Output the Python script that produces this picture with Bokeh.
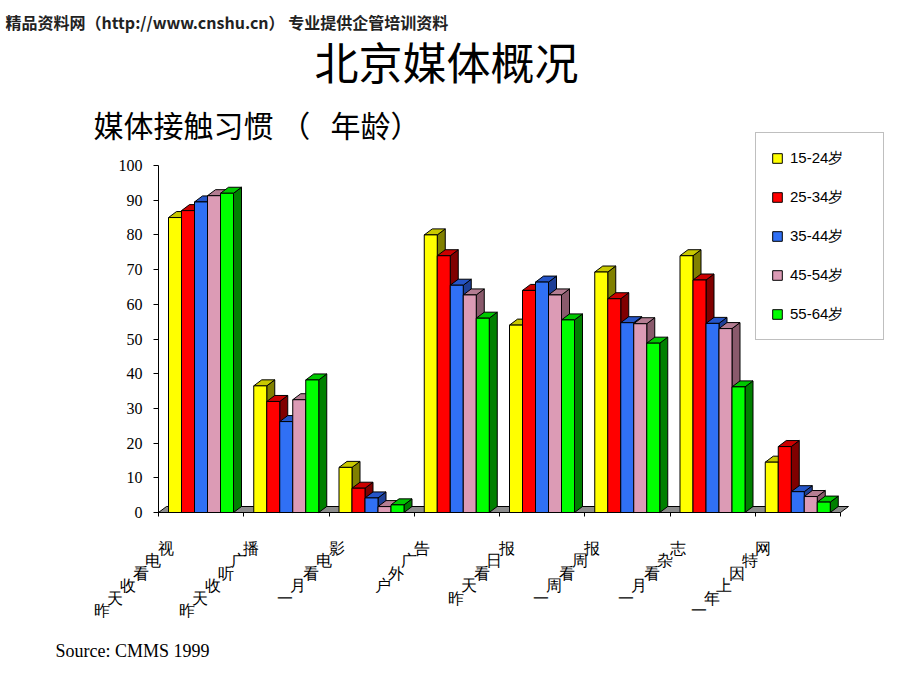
from bokeh.plotting import figure
from bokeh.models import (Range1d, FixedTicker, Label, LabelSet, ColumnDataSource,
                          Legend, LegendItem)
from bokeh.embed import file_html
from bokeh.resources import INLINE

# ---------------- data ----------------
categories = ["昨天收看电视", "昨天收听广播", "一月看电影", "户外广告",
              "昨天看日报", "一周看周报", "一月看杂志", "一年上因特网"]
age_groups = ["15-24岁", "25-34岁", "35-44岁", "45-54岁", "55-64岁"]
age_15_24 = [85.0, 36.5, 13.0, 80.0, 54.0, 69.3, 74.0, 14.5]
age_25_34 = [87.0, 32.0, 7.0, 74.0, 64.0, 61.6, 67.0, 19.0]
age_35_44 = [89.5, 26.2, 4.2, 65.5, 66.4, 54.7, 54.5, 6.0]
age_45_54 = [91.3, 32.5, 1.7, 62.7, 62.7, 54.4, 53.0, 4.6]
age_55_64 = [92.0, 38.2, 2.2, 56.0, 55.5, 48.8, 36.2, 3.0]
series_values = [age_15_24, age_25_34, age_35_44, age_45_54, age_55_64]
y_ticks = list(range(0, 101, 10))

front_colors = ["#FFFF00", "#FF0000", "#3070F5", "#DC9BB5", "#00FF00"]
top_colors = ["#C8C800", "#CC0000", "#2555C8", "#B47D92", "#00C800"]
side_colors = ["#808000", "#800000", "#1E3F96", "#8A5A6C", "#008000"]

# ---------------- layout ----------------
W, H = 920, 690
FL, FR, FT, FB = 158, 840, 165, 512   # where the value area sits on the page
n = len(categories)
px_x = n / (FR - FL)
px_y = 100.0 / (FB - FT)

p = figure(width=W, height=H, output_backend="svg", toolbar_location=None,
           x_range=Range1d(-FL * px_x, n + (W - FR) * px_x),
           y_range=Range1d(-(H - FB) * px_y, 100 + FT * px_y),
           min_border=0)
p.background_fill_color = "white"
p.border_fill_color = "white"
p.outline_line_color = None
p.grid.visible = False

dx = 8 * px_x
dy = 6 * px_y
gap = 10 * px_x
bw = 13 * px_x

# floor
p.patch([0, n, n + dx, dx], [0, 0, dy, dy], fill_color="#8C8C8C",
        line_color="black", line_width=1)

items = []
for s, vals in enumerate(series_values):
    lefts = [i + gap + s * bw for i in range(n)]
    rights = [l + bw for l in lefts]
    side_xs = [[r, r + dx, r + dx, r] for r in rights]
    side_ys = [[0, dy, v + dy, v] for v in vals]
    top_xs = [[l, r, r + dx, l + dx] for l, r in zip(lefts, rights)]
    top_ys = [[v, v, v + dy, v + dy] for v in vals]
    p.patches(side_xs, side_ys, fill_color=side_colors[s], line_color="black", line_width=1)
    p.patches(top_xs, top_ys, fill_color=top_colors[s], line_color="black", line_width=1)
    fr = p.quad(left=lefts, right=rights, bottom=0, top=vals,
                fill_color=front_colors[s], line_color="black", line_width=1)
    items.append(LegendItem(label=age_groups[s], renderers=[fr]))

# axes (fixed at the value-area origin)
p.xaxis.fixed_location = 0
p.xaxis.bounds = (0, n)
p.xaxis.ticker = FixedTicker(ticks=list(range(n + 1)))
p.xaxis.major_label_overrides = {i: "" for i in range(n + 1)}
p.xaxis.major_tick_out = 4
p.xaxis.major_tick_in = 0
p.xaxis.minor_tick_line_color = None
p.xaxis.axis_line_color = "black"
p.xaxis.major_tick_line_color = "black"

p.yaxis.fixed_location = 0
p.yaxis.bounds = (0, 100)
p.yaxis.ticker = FixedTicker(ticks=y_ticks)
p.yaxis.major_tick_out = 5
p.yaxis.major_tick_in = 0
p.yaxis.minor_tick_line_color = None
p.yaxis.axis_line_color = "black"
p.yaxis.major_tick_line_color = "black"
p.yaxis.major_label_standoff = 11
p.yaxis.major_label_text_font = "Liberation Serif"
p.yaxis.major_label_text_font_size = "16px"
p.yaxis.major_label_text_color = "black"

# diagonal category labels (upright characters stepped along 45 degrees)
cx, cy, cxo, cyo, ct = [], [], [], [], []
for i, lab in enumerate(categories):
    L = len(lab)
    for j, ch in enumerate(lab):
        k = L - 1 - j
        cx.append(i + 0.5)
        cy.append(0)
        cxo.append(-35 - 12.8 * k)
        cyo.append(-(36 + 12.4 * k))
        ct.append(ch)
src = ColumnDataSource(dict(x=cx, y=cy, xo=cxo, yo=cyo, t=ct))
p.add_layout(LabelSet(x="x", y="y", x_offset="xo", y_offset="yo", text="t", source=src,
                      text_font="Noto Sans CJK SC", text_font_size="16px",
                      text_color="black", text_align="center", text_baseline="middle"))

# legend
legend = Legend(items=items, location=(755, H - 340),
                padding=15, spacing=19, margin=0,
                glyph_width=12, glyph_height=12, label_height=20,
                label_standoff=7, label_width=78,
                label_text_font="Liberation Sans", label_text_font_size="15px",
                label_text_color="black",
                border_line_color="#808080", border_line_width=1,
                background_fill_color="white", background_fill_alpha=1.0)
p.add_layout(legend)

# page texts (screen units: frame covers the whole page)
def lab(text, x, y, size, font, align="left", style="normal", color="black"):
    p.add_layout(Label(x=x, y=H - y, x_units="screen", y_units="screen", text=text,
                       text_font=font, text_font_size=size, text_font_style=style,
                       text_color=color, text_align=align, text_baseline="middle"))

lab("精品资料网（http://www.cnshu.cn） 专业提供企管培训资料", 5, 21, "16px",
    "Noto Sans CJK SC", style="bold", color="#222222")
lab("北京媒体概况", 446, 60, "44px", "Noto Sans CJK SC", align="center")
lab("媒体接触习惯\u00a0（\u00a0\u00a0\u00a0年龄）", 93, 123, "30px", "Noto Sans CJK SC")
lab("Source: CMMS 1999", 55, 650, "18px", "Liberation Serif")

open("out.html", "w").write(file_html(p, INLINE))
